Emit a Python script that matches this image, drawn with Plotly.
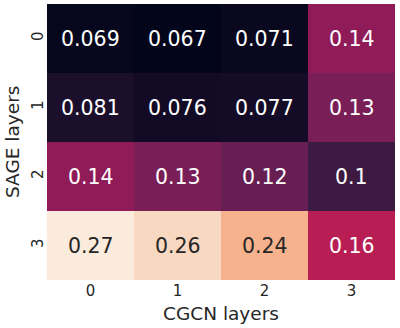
import plotly.graph_objects as go

x_labels = ["0", "1", "2", "3"]
y_labels = ["0", "1", "2", "3"]
x_title = "CGCN layers"
y_title = "SAGE layers"

row0 = [0.069, 0.067, 0.071, 0.14]
row1 = [0.081, 0.076, 0.077, 0.13]
row2 = [0.14, 0.13, 0.12, 0.10]
row3 = [0.27, 0.26, 0.24, 0.16]
values = [row0, row1, row2, row3]

rocket = [
    [0.0, "#03051a"],
    [0.143, "#35193e"],
    [0.286, "#701f57"],
    [0.429, "#ad1759"],
    [0.571, "#e13342"],
    [0.714, "#f37651"],
    [0.857, "#f6b48f"],
    [1.0, "#faebdd"],
]

flat = [v for r in values for v in r]
zmin, zmax = min(flat), max(flat)

fig = go.Figure(go.Heatmap(
    z=values,
    x=list(range(len(x_labels))),
    y=list(range(len(y_labels))),
    colorscale=rocket,
    zmin=zmin, zmax=zmax,
    showscale=False,
    hoverinfo="skip",
))

FONT = "DejaVu Sans"
for i, r in enumerate(values):
    for j, v in enumerate(r):
        frac = (v - zmin) / (zmax - zmin)
        col = "#262626" if frac > 0.75 else "white"
        fig.add_annotation(x=j, y=i, xref="x", yref="y", text=f"{v:.2g}",
                           showarrow=False,
                           font=dict(family=FONT, size=20.5, color=col))

fig.add_annotation(x=0.5, y=0, xref="paper", yref="paper", text=x_title,
                   showarrow=False, yanchor="middle", yshift=-33,
                   font=dict(family=FONT, size=18.5, color="#262626"))
fig.add_annotation(x=0, y=0.5, xref="paper", yref="paper", text=y_title,
                   showarrow=False, textangle=-90, xanchor="center", xshift=-35,
                   font=dict(family=FONT, size=18.5, color="#262626"))

fig.update_xaxes(tickvals=list(range(len(x_labels))), ticktext=x_labels,
                 ticks="",
                 showgrid=False, zeroline=False, showline=False,
                 tickfont=dict(family=FONT, size=15, color="#262626"))
fig.update_yaxes(tickvals=list(range(len(y_labels))), ticktext=y_labels,
                 autorange="reversed", tickangle=-90,
                 ticks="",
                 showgrid=False, zeroline=False, showline=False,
                 tickfont=dict(family=FONT, size=15, color="#262626"))

fig.update_layout(
    width=400, height=328,
    margin=dict(l=47, r=5, t=4, b=48),
    paper_bgcolor="white", plot_bgcolor="white",
    font=dict(family=FONT),
)

fig.write_html("out.html", config={"displayModeBar": False},
               post_script="document.body.style.margin='0px';document.body.style.overflow='hidden';")
